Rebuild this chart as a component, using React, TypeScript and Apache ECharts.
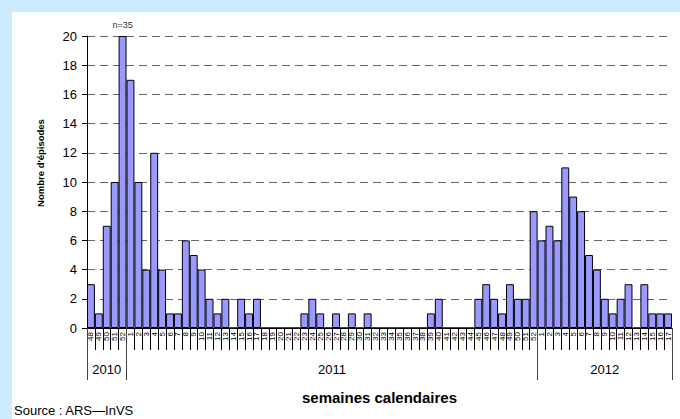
import React, { useEffect, useRef } from "react";
import * as echarts from "echarts";

// ---- data ----
const years = ["2010", "2011", "2012"];
const startWeeks = [48, 1, 1];
const values2010 = [3, 1, 7, 10, 35];
const values2011 = [
  17, 10, 4, 12, 4, 1, 1, 6, 5, 4, 2, 1, 2, 0, 2, 1, 2,
  0, 0, 0, 0, 0,
  1, 2, 1, 0, 1, 0, 1, 0, 1,
  0, 0, 0, 0, 0, 0, 0,
  1, 2,
  0, 0, 0, 0,
  2, 3, 2, 1, 3, 2, 2, 8,
];
const values2012 = [6, 7, 6, 11, 9, 8, 5, 4, 2, 1, 2, 3, 0, 3, 1, 1, 1];
const yTicksMax = 20;
const yInterval = 2;

const FONT = "'Liberation Sans', Arial, sans-serif";

export default function App() {
  const ref = useRef<HTMLDivElement>(null);

  useEffect(() => {
    if (!ref.current) return;
    const chart = echarts.init(ref.current, undefined, { renderer: "svg" });

    const groups = [values2010, values2011, values2012];
    const labels: string[] = [];
    const values: number[] = [];
    const boundaries: number[] = [0];
    const mids: number[] = [];
    let acc = 0;
    groups.forEach((g, gi) => {
      g.forEach((v, i) => {
        labels.push(String(startWeeks[gi] + i));
        values.push(v);
      });
      mids.push(acc + g.length / 2);
      acc += g.length;
      boundaries.push(acc);
    });
    const total = acc;

    const barData = values.map((v) =>
      v > yTicksMax
        ? {
            value: yTicksMax,
            label: {
              show: true,
              position: "top",
              distance: 7,
              formatter: "n=" + v,
              fontSize: 9,
              color: "#333",
              fontFamily: FONT,
            },
          }
        : { value: v }
    );

    const yearFor = (val: number) => {
      for (let i = 0; i < mids.length; i++) {
        if (Math.abs(mids[i] - val) < 0.01) return years[i];
      }
      return "";
    };

    chart.setOption({
      animation: false,
      backgroundColor: "transparent",
      textStyle: { fontFamily: FONT },
      grid: { left: 87, right: 8, top: 36, bottom: 91, containLabel: false },
      xAxis: [
        {
          type: "category",
          data: labels,
          boundaryGap: true,
          axisLine: { show: true, lineStyle: { color: "#000", width: 1 } },
          axisTick: {
            show: true,
            interval: 0,
            length: 22,
            lineStyle: { color: "#000" },
          },
          axisLabel: {
            interval: 0,
            rotate: 90,
            fontSize: 8,
            margin: 4,
            color: "#000",
            fontFamily: FONT,
          },
          name: "semaines calendaires",
          nameLocation: "middle",
          nameGap: 62,
          nameTextStyle: {
            fontWeight: "bold",
            fontSize: 15,
            color: "#000",
            fontFamily: FONT,
          },
          splitLine: { show: false },
        },
        {
          type: "value",
          min: 0,
          max: total,
          position: "bottom",
          axisLine: { show: false },
          splitLine: { show: false },
          axisTick: {
            show: true,
            customValues: boundaries,
            length: 52,
            lineStyle: { color: "#444" },
          },
          axisLabel: {
            show: true,
            customValues: mids,
            formatter: (v: number) => yearFor(v),
            margin: 35,
            fontSize: 13,
            color: "#000",
            fontFamily: FONT,
          },
        },
      ],
      yAxis: {
        type: "value",
        min: 0,
        max: yTicksMax,
        interval: yInterval,
        axisLine: { show: true, lineStyle: { color: "#000" } },
        axisTick: { show: true, length: 5, lineStyle: { color: "#000" } },
        axisLabel: { fontSize: 13, color: "#000", margin: 10, fontFamily: FONT },
        splitLine: {
          show: true,
          lineStyle: { type: [8, 5], color: "#666", width: 1 },
        },
      },
      graphic: [
        {
          type: "text",
          x: 40,
          y: 163,
          rotation: Math.PI / 2,
          style: {
            text: "Nombre d'épisodes",
            fontSize: 9.5,
            fontWeight: "bold",
            fontFamily: FONT,
            fill: "#000",
            textAlign: "center",
            textVerticalAlign: "middle",
          },
        },
        {
          type: "text",
          x: 14,
          y: 404,
          style: {
            text: "Source : ARS\u2014InVS",
            fontSize: 13,
            fontFamily: FONT,
            fill: "#000",
            textAlign: "left",
            textVerticalAlign: "top",
          },
        },
      ],
      series: [
        {
          type: "bar",
          xAxisIndex: 0,
          data: barData,
          barCategoryGap: "0%",
          itemStyle: { color: "#9999ff", borderColor: "#000", borderWidth: 1 },
        },
      ],
    });

    return () => chart.dispose();
  }, []);

  return (
    <div
      style={{
        position: "absolute",
        left: 0,
        top: 0,
        width: 680,
        height: 419,
        background: "#cdebff",
        overflow: "hidden",
      }}
    >
      <div
        style={{
          position: "absolute",
          left: 12,
          top: 12,
          width: 668,
          height: 407,
          background: "#ffffff",
        }}
      />
      <div
        ref={ref}
        style={{ position: "absolute", left: 0, top: 0, width: 680, height: 419 }}
      />
    </div>
  );
}
